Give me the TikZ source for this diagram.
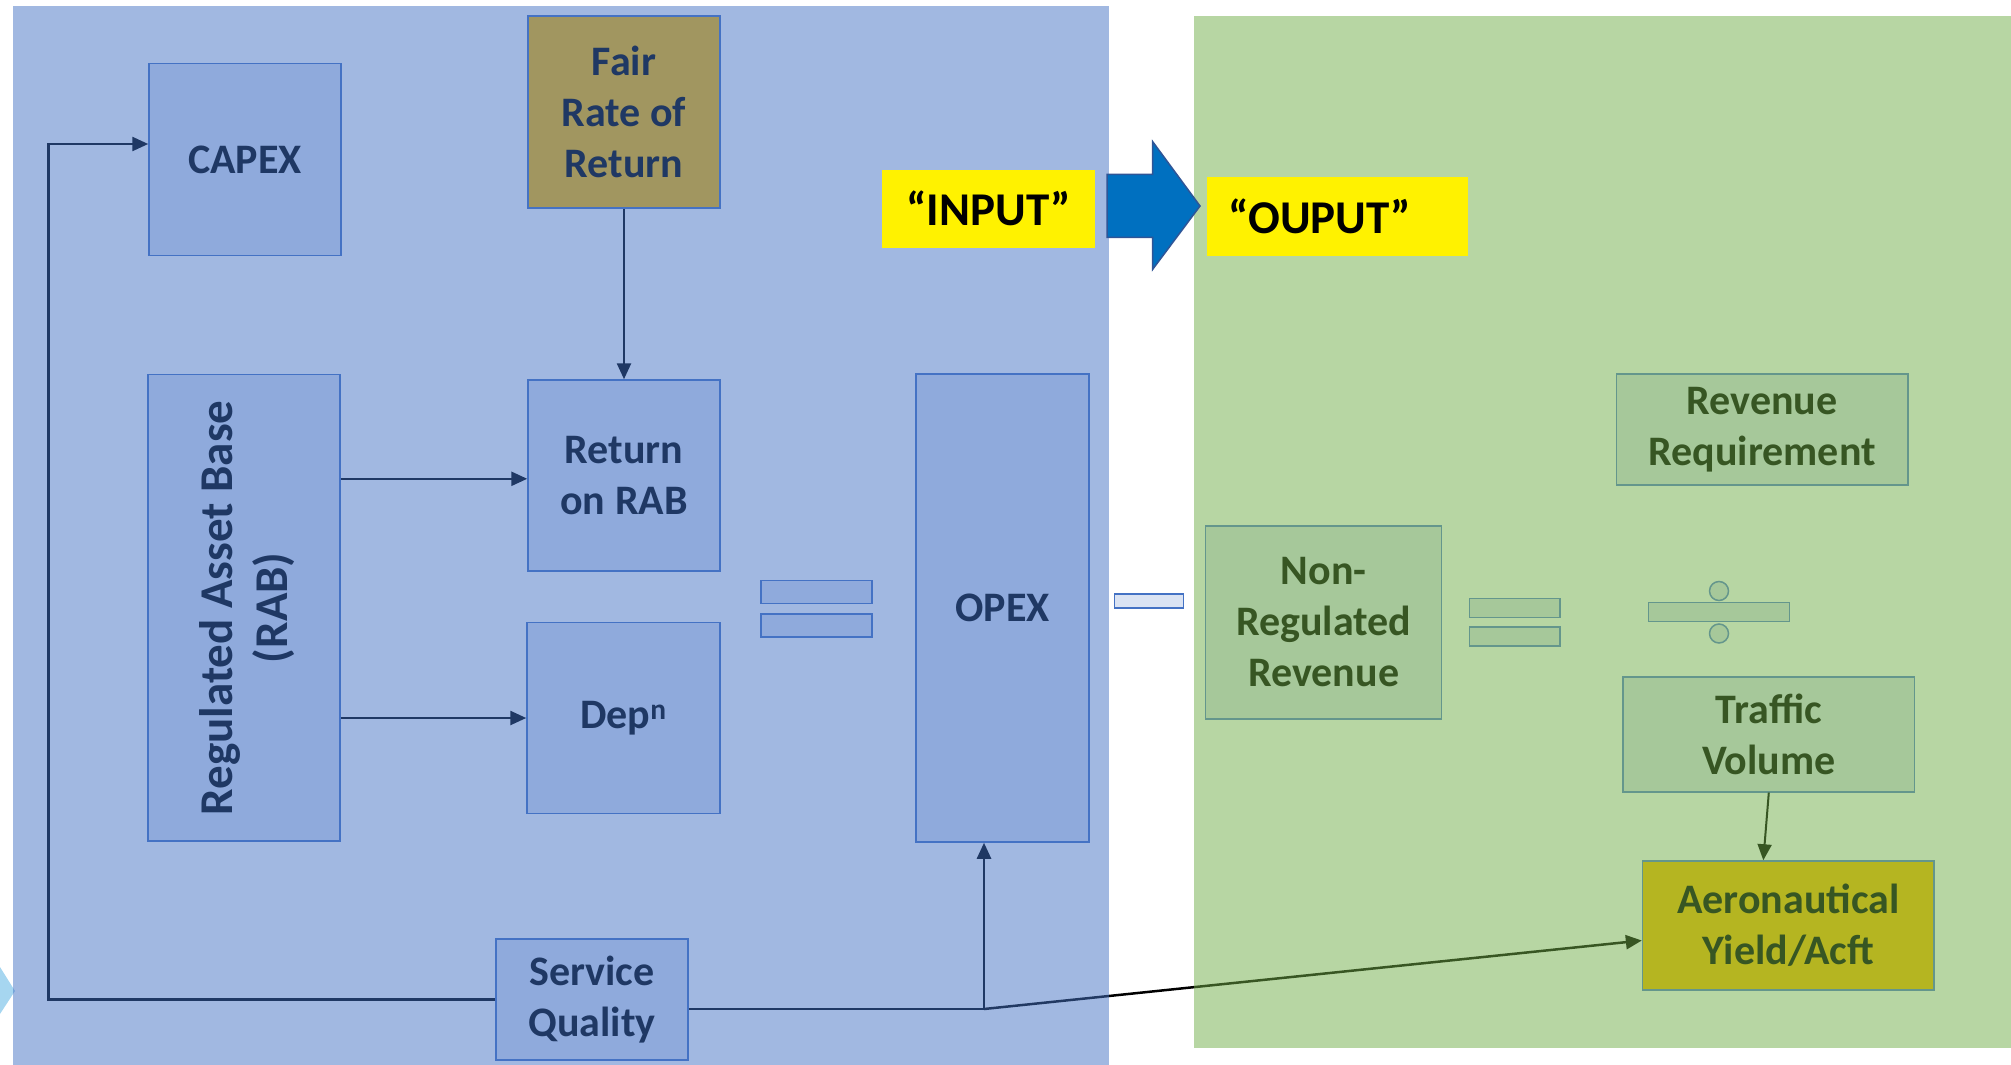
\documentclass[tikz,border=0pt]{standalone}
\usepackage{fontspec}
\setmainfont{Carlito}
\usetikzlibrary{arrows.meta}
\definecolor{navy}{RGB}{31,56,100}
\definecolor{boxblue}{RGB}{68,114,196}
\definecolor{fillblue}{RGB}{143,170,220}
\definecolor{fairolive}{RGB}{161,150,96}
\definecolor{gfill}{RGB}{166,200,154}
\definecolor{gborder}{RGB}{100,150,140}
\definecolor{gtext}{RGB}{55,86,35}
\definecolor{aerofill}{RGB}{181,181,33}
\definecolor{minusfill}{RGB}{218,227,243}
\definecolor{arrowblue}{RGB}{0,112,192}
\definecolor{arrowedge}{RGB}{47,85,151}
\definecolor{chevron}{RGB}{166,214,240}
\definecolor{gpanel}{RGB}{112,173,71}
\newcommand\mainfnt{\bfseries\fontsize{42}{51}\selectfont}
\pgfdeclarelayer{under}
\pgfdeclarelayer{panels}
\pgfsetlayers{under,panels,main}
\begin{document}
\begin{tikzpicture}[x=1pt,y=-1pt,
  bbox/.style={draw=boxblue,fill=fillblue,line width=1.5pt,align=center,inner sep=0pt,text=navy,font=\mainfnt},
  gbox/.style={draw=gborder,fill=gfill,line width=1.5pt,align=center,inner sep=0pt,text=gtext,font=\mainfnt},
  ybox/.style={fill=yellow,inner sep=0pt,text=black,font=\bfseries\fontsize{47}{56}\selectfont},
  conn/.style={draw=navy,line width=2.5pt,-{Triangle[length=16pt,width=14pt]}},
  sz/.style 2 args={minimum width=#1pt,minimum height=#2pt}]
\useasboundingbox (0,0) rectangle (2011,1065);

% panels
\begin{pgfonlayer}{panels}
\fill[boxblue,fill opacity=0.5] (12.8,6.4) rectangle (1109,1065);
\fill[gpanel,fill opacity=0.5] (1194,16.5) rectangle (2011,1048);
\end{pgfonlayer}
\begin{pgfonlayer}{under}
\fill[chevron] (0,967) -- (15,991) -- (0,1014) -- cycle;
\end{pgfonlayer}

% left column boxes
\node[bbox,sz={192}{192}] (capex) at (245,159.6) {CAPEX};
\node[bbox,sz={192}{466.5},font=\bfseries\fontsize{47}{55}\selectfont] (rab) at (244,607.8)
  {\hspace*{10pt}\rotatebox{90}{\begin{tabular}{@{}c@{}}Regulated Asset Base\\(RAB)\end{tabular}}};
\node[bbox,sz={192}{192},fill=fairolive] (fair) at (624,112) {Fair\\Rate of\\Return};
\node[bbox,sz={192}{191}] (ret) at (624,475.5) {Return\\on RAB};
\node[bbox,sz={193}{191}] (dep) at (623.5,718) {\raisebox{-4pt}{Dep\textsuperscript{n}}};
\node[bbox,sz={173}{468}] (opex) at (1002.5,608) {OPEX};
\node[bbox,sz={192}{121}] (sq) at (592,999.5) {Service\\Quality};

% equals (blue)
\node[bbox,sz={111}{23}] (eqa) at (816.5,592) {};
\node[bbox,sz={111}{23}] (eqb) at (816.5,625.4) {};
% minus
\node[bbox,sz={69}{13.7},fill=minusfill] (minus) at (1148.8,600.9) {};

% input / output
\node[ybox,sz={213}{77.5}] (input) at (988.5,208.8) {“INPUT”};
\node[ybox,sz={260.5}{78.5},text width=218.5pt,inner xsep=21pt,align=left] (output) at (1337.7,216.7) {“OUPUT”};
\draw[fill=arrowblue,draw=arrowedge,line width=1.5pt]
  (1107,174.3) -- (1152.7,174.3) -- (1152.7,141.7) -- (1200,206) -- (1152.7,269.3) -- (1152.7,237.3) -- (1107,237.3) -- cycle;

% green side
\node[gbox,sz={291.5}{111}] (revreq) at (1762.2,429.5) {Revenue\\Requirement};
\node[gbox,sz={236}{193}] (nonreg) at (1323.7,622.5) {Non-\\Regulated\\Revenue};
\node[gbox,sz={90.5}{19}] (geqa) at (1514.8,608.2) {};
\node[gbox,sz={90.5}{19}] (geqb) at (1514.8,636.3) {};
\node[gbox,sz={141.4}{19.4}] (divbar) at (1719,612) {};
\node[gbox,circle,minimum size=19pt] (dota) at (1719,591) {};
\node[gbox,circle,minimum size=19pt] (dotb) at (1719,633.5) {};
\node[gbox,sz={291.6}{114.8}] (traffic) at (1768.8,734.4) {Traffic\\Volume};
\node[gbox,sz={291.4}{129},fill=aerofill] (aero) at (1788.3,925.5) {Aeronautical\\Yield/Acft};

% connectors
\coordinate (lc) at (48.6,144);
\coordinate (j) at (984,1009);
\coordinate (ry) at (0,478.8);
\draw[conn] (fair.south) -- (ret.north);
\draw[conn] (rab.east |- ry) -- (ret.west |- ry);
\draw[conn] (rab.east |- dep.west) -- (dep.west);
\draw[conn] (sq.west) -| (lc) -- (lc -| capex.west);
\draw[conn] (sq.east |- j) -- (j) -- (j |- opex.south);
\draw[conn,draw=gtext,line width=2pt] (traffic.south) -- ([xshift=-25pt]aero.north);
\begin{pgfonlayer}{under}
\draw[line width=2.5pt,black,-{Triangle[length=16pt,width=14pt]}] (j) -- ([yshift=-15pt]aero.west);
\end{pgfonlayer}
\end{tikzpicture}
\end{document}
